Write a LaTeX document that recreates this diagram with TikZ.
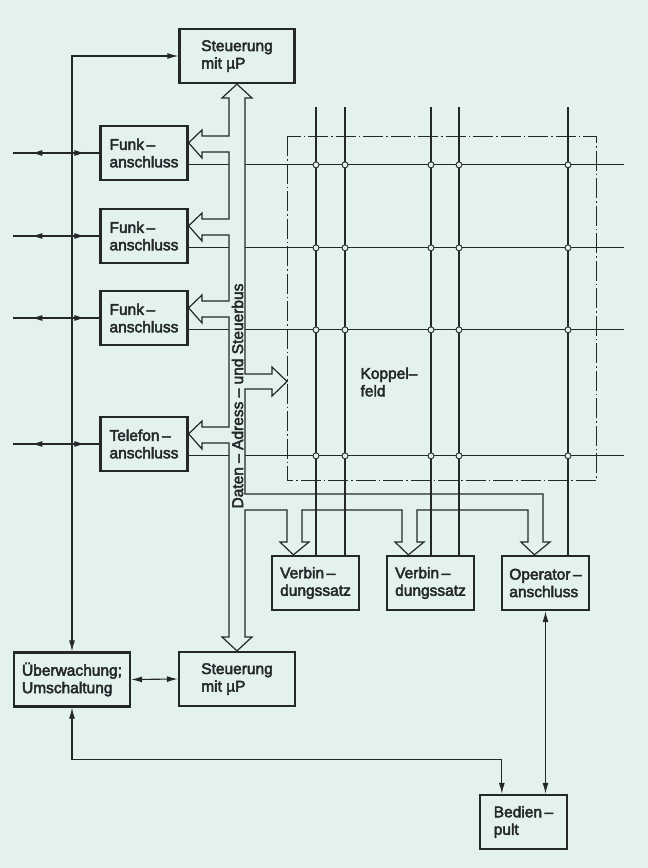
\documentclass[tikz,border=0pt]{standalone}
\usepackage{fontspec}
\setmainfont{Liberation Sans}
\newfontfamily\boxff{Liberation Sans}[FakeBold=3]
\usetikzlibrary{arrows.meta,calc}
\definecolor{paper}{RGB}{228,242,238}
\definecolor{ink}{RGB}{36,40,42}
\newcommand{\boxfont}{\boxff\fontsize{15.5}{17.5}\selectfont}
\tikzset{
  blk/.style = {draw=ink, line width=2.3pt, text=ink, align=left, font=\boxfont,
    minimum width=87pt, minimum height=54pt, inner sep=2pt},% Baustein
  wire/.style = {draw=ink, line width=1.1pt},
  bus/.style = {draw=ink, line width=1.2pt, line join=miter},% Busleitung
  xpt/.style = {circle, draw=ink, fill=paper, line width=0.9pt, inner sep=0pt,
    minimum size=6pt},% Koppelpunkt
  rahmen/.style = {draw=ink, line width=0.9pt,
    dash pattern=on 20pt off 3pt on 1.5pt off 3pt},
}

\begin{document}
\begin{tikzpicture}[x=1pt, y=-1pt, >={Latex[length=11pt,width=6pt]}]
  \useasboundingbox (0,0) rectangle (648,868);
  \fill[paper] (0,0) rectangle (648,868);

  \node[blk, minimum width=115pt] (steuT) at (237,56) {Steuerung\\mit µP};
  \node[blk] (funk1) at (144,153) {Funk\,–\\anschluss};
  \node[blk] (funk2) at (144,236) {Funk\,–\\anschluss};
  \node[blk] (funk3) at (144,318) {Funk\,–\\anschluss};
  \node[blk] (tel) at (144,444) {Telefon\,–\\anschluss};

  \node[blk] (vb1) at (315.5,583) {Verbin\,–\\dungssatz};
  \node[blk] (vb2) at (430.5,583) {Verbin\,–\\dungssatz};
  \node[blk] (op) at (545.5,583) {Operator\,–\\anschluss};

  \node[blk, minimum width=116pt] (ueb) at (72,679.5) {Überwachung;\\Umschaltung};
  \node[blk, minimum width=116pt] (steuB) at (237,679) {Steuerung\\mit µP};
  \node[blk] (bed) at (523.5,822) {Bedien\,–\\pult};

  \node[font=\boxfont, text=ink, align=left, anchor=west] (kf) at (357,382) {Koppel–\\feld};

  % Koppelfeld
  \draw[rahmen] (287,136) rectangle (596,480);
  \foreach \x/\t in {316/vb1, 345/vb1, 431/vb2, 459/vb2, 568/op}
    \draw[wire] (\x,107) -- (\x,0 |- \t.north);
  \foreach \b in {funk1,funk2,funk3,tel}{
    \coordinate (r\b) at ($(\b.north east)+(0,40)$);
    \draw[wire] (r\b) -- (r\b -| 229,0) (r\b -| 245,0) -- (r\b -| 624,0);
    % Anschlussleitung nach aussen
    \coordinate (e\b) at ($(\b.west)+(-86,0)$);
    \draw[wire] (e\b) -- (\b.west);
    \draw[wire, ->] ($(\b.west)+(-50,0)$) -- ($(\b.west)+(-68,0)$);
    \draw[wire, ->] ($(\b.west)+(-32,0)$) -- ($(\b.west)+(-14,0)$);
  }
  \foreach \x in {316,345,431,459,568}
    \foreach \b in {funk1,funk2,funk3,tel}
      \node[xpt] at (\x,0 |- r\b) {};

  % Daten-, Adress- und Steuerbus
  \draw[bus] (245,98) -- (245,374) -- (272,374) -- (272,367) -- (287,381.5)
    -- (272,396) -- (272,389) -- (245,389)
    -- (245,494) -- (543,494) -- (543,542) -- (550,542) -- ($(op.north west)+(33.5,0)$)
    -- (521,542) -- (528,542) -- (528,510) -- (417,510) -- (417,542) -- (424,542)
    -- ($(vb2.north west)+(22.5,0)$) -- (395,542) -- (402,542) -- (402,510)
    -- (302,510) -- (302,542) -- (309,542) -- ($(vb1.north west)+(22.5,0)$)
    -- (280,542) -- (287,542) -- (287,510) -- (245,510)
    -- (245,637) -- (252,637) -- (steuB.north) -- (222,637) -- (229,637)
    -- (229,443) -- (202,443) -- (202,449) -- ($(tel.north east)+(0,18)$)
    -- (202,421) -- (202,427) -- (229,427)
    -- (229,317) -- (202,317) -- (202,323) -- ($(funk3.north east)+(0,18)$)
    -- (202,295) -- (202,301) -- (229,301)
    -- (229,235) -- (202,235) -- (202,241) -- ($(funk2.north east)+(0,18)$)
    -- (202,213) -- (202,219) -- (229,219)
    -- (229,152) -- (202,152) -- (202,158) -- ($(funk1.north east)+(0,18)$)
    -- (202,130) -- (202,136) -- (229,136)
    -- (229,98) -- (222,98) -- (steuT.south) -- (252,98) -- cycle;
  \node[rotate=90, font=\boxfont, text=ink, inner sep=0pt] (buslbl)
    at (237.5,396) {Daten – Adress – und Steuerbus};

  % Ueberwachung und Bedienung
  \draw[wire, <->] (steuT.west) -| (ueb.north);
  \draw[wire, <->] (ueb.east) -- (steuB.west);
  \coordinate (bin) at ($(bed.north west)+(23,0)$);
  \draw[wire, <->] (ueb.south) |- ($(bin)+(0,-34)$) -- (bin);
  \draw[wire, <->] (op.south) -- (op.south |- bed.north);
\end{tikzpicture}
\end{document}
